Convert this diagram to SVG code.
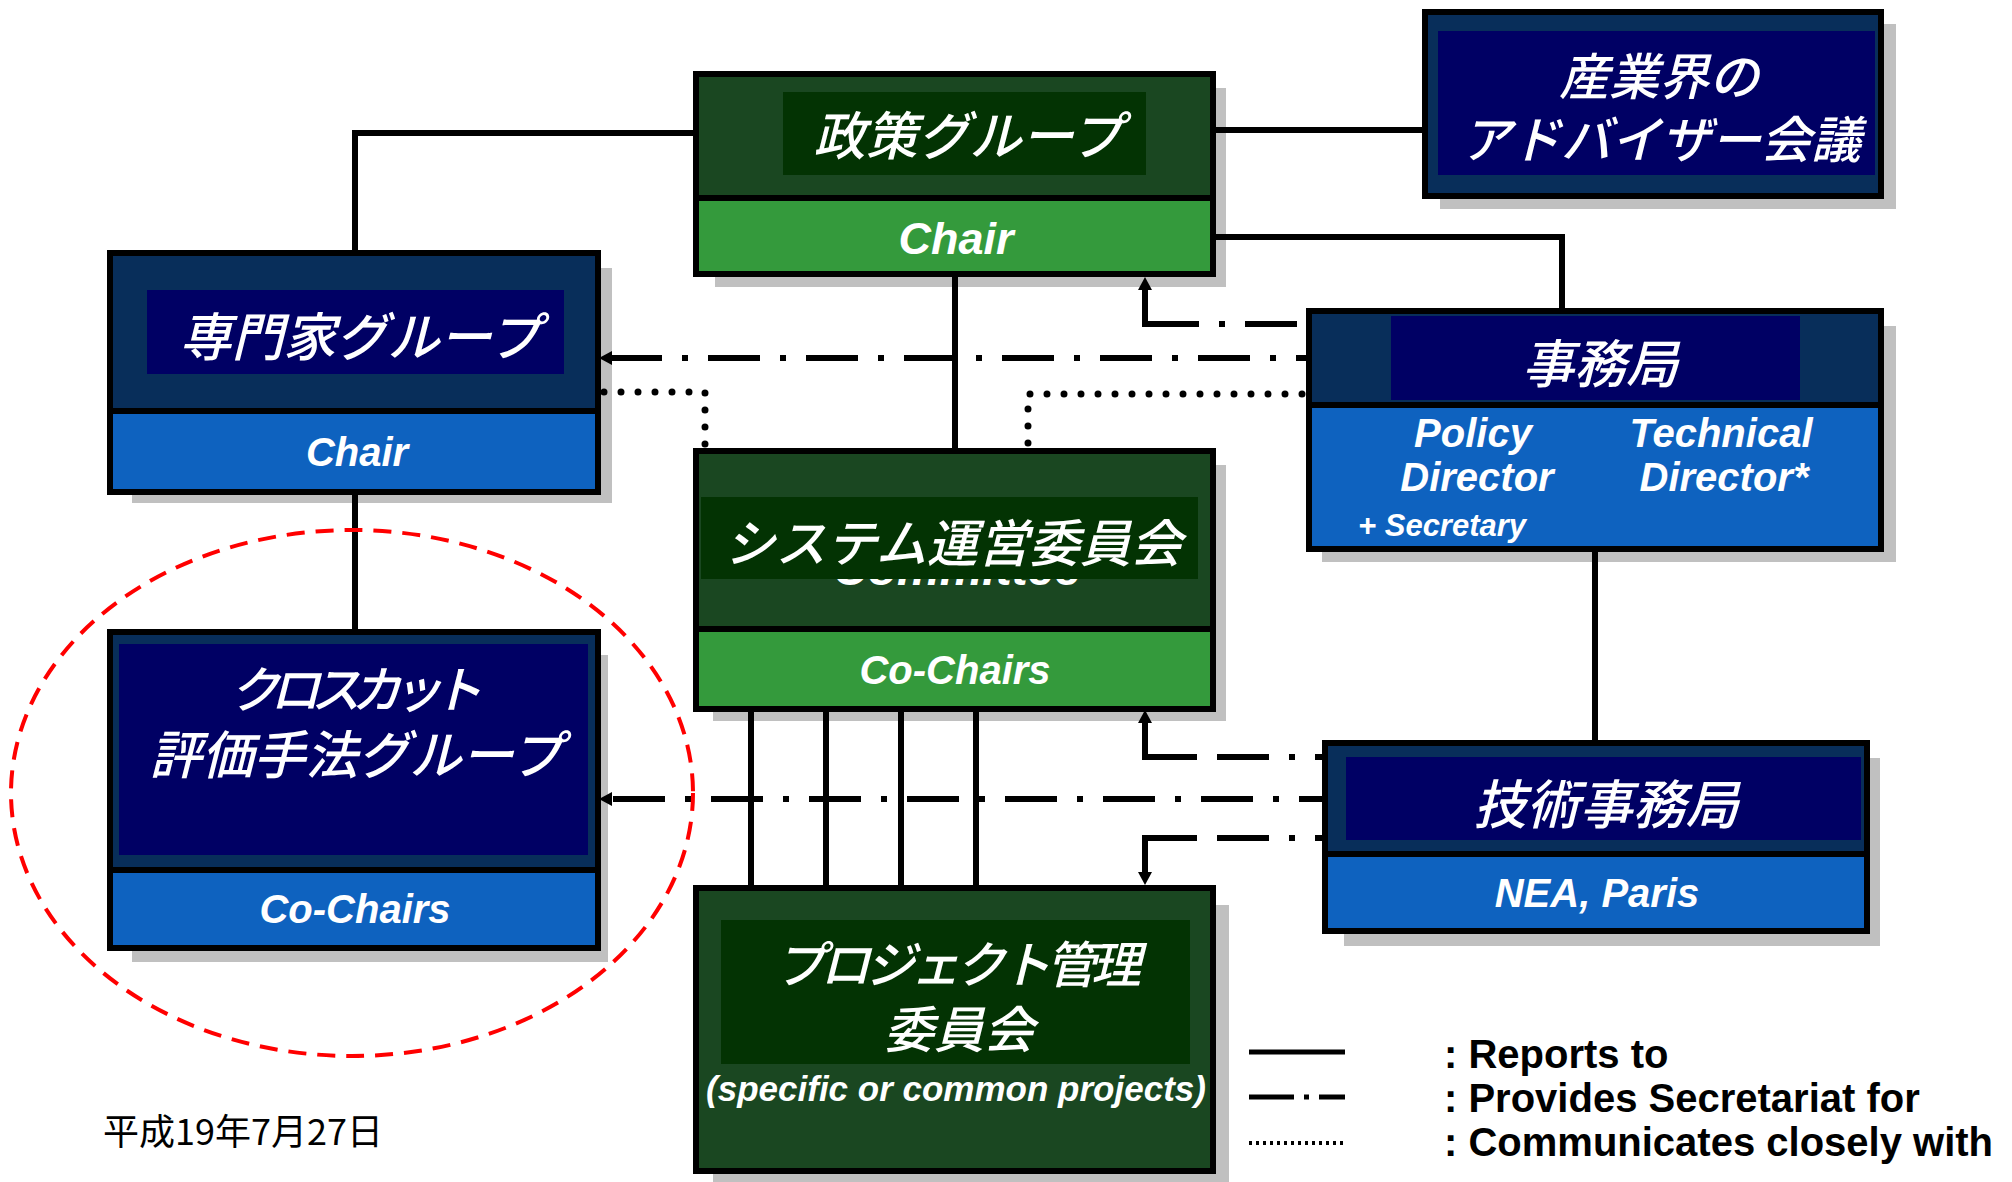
<svg xmlns="http://www.w3.org/2000/svg" width="2012" height="1182" viewBox="0 0 2012 1182">
  <style>
    .jp{font-family:"Noto Sans CJK JP","Noto Sans CJK SC",sans-serif;font-style:italic;font-weight:500;fill:#fff;font-size:50px;text-anchor:middle}
    .en{font-family:"Liberation Sans",Arial,sans-serif;font-weight:bold;font-style:italic;fill:#fff;font-size:40px;text-anchor:middle}
    .leg{font-family:"Liberation Sans",Arial,sans-serif;font-weight:bold;fill:#000;font-size:40px}
    .date{font-family:"Noto Sans CJK JP",sans-serif;fill:#000;font-size:36px}
    .frame{fill:none;stroke:#000;stroke-width:6}
    .div{stroke:#000;stroke-width:6}
    .shadow{fill:#c0c0c0}
    .gTop{fill:#1a4721}.gIn{fill:#033303}.gBot{fill:#349a3c}
    .bTop{fill:#082e5a}.bIn{fill:#000064}.bBot{fill:#0e62bf}
    .solid{fill:none;stroke:#000;stroke-width:6}
    .dashdot{fill:none;stroke:#000;stroke-width:6;stroke-dasharray:52 20 6 20}
    .dotted{fill:none;stroke:#000;stroke-width:7;stroke-linecap:round;stroke-dasharray:0 17}
    .arrow{marker-end:url(#head)}
  </style>
  <defs>
    <marker id="head" viewBox="0 0 13 14" refX="1" refY="7" markerWidth="13" markerHeight="14" markerUnits="userSpaceOnUse" orient="auto">
      <path d="M0,0 L13,7 L0,14 Z" fill="#000"/>
    </marker>
  </defs>
  <rect width="2012" height="1182" fill="#fff"/>

  <!-- Policy group -->
  <g id="policy-group">
    <rect class="shadow" x="715" y="88" width="511" height="199"/>
    <rect class="gTop" x="696" y="74" width="517" height="124"/>
    <rect class="gBot" x="696" y="198" width="517" height="76"/>
    <rect class="gIn" x="783" y="92" width="363" height="83"/>
    <rect class="frame" x="696" y="74" width="517" height="200"/>
    <line class="div" x1="696" y1="198" x2="1213" y2="198"/>
    <text class="jp" x="968" y="155" style="font-size:52px">政策グループ</text>
    <text class="en" x="956" y="254" style="font-size:45px">Chair</text>
  </g>

  <!-- Industry advisory -->
  <g id="advisory">
    <rect class="shadow" x="1440" y="24" width="456" height="185"/>
    <rect class="bTop" x="1425" y="12" width="456" height="184"/>
    <rect class="bIn" x="1438" y="31" width="437" height="144"/>
    <rect class="frame" x="1425" y="12" width="456" height="184"/>
    <text class="jp" x="1659" y="95">産業界の</text>
    <text class="jp" x="1661" y="158">アドバイザー会議</text>
  </g>

  <!-- Expert group -->
  <g id="expert-group">
    <rect class="shadow" x="132" y="268" width="480" height="235"/>
    <rect class="bTop" x="110" y="253" width="488" height="158"/>
    <rect class="bBot" x="110" y="411" width="488" height="81"/>
    <rect class="bIn" x="147" y="290" width="417" height="84"/>
    <rect class="frame" x="110" y="253" width="488" height="239"/>
    <line class="div" x1="110" y1="411" x2="598" y2="411"/>
    <text class="jp" x="360" y="356" style="font-size:52px">専門家グループ</text>
    <text class="en" x="357" y="466">Chair</text>
  </g>

  <!-- System steering committee -->
  <g id="steering">
    <rect class="shadow" x="713" y="465" width="513" height="256"/>
    <rect class="gTop" x="696" y="451" width="517" height="178"/>
    <rect class="gBot" x="696" y="629" width="517" height="80"/>
    <text class="en" x="957" y="585" style="font-size:48px">Committee</text>
    <rect class="gIn" x="701" y="497" width="497" height="82"/>
    <rect class="frame" x="696" y="451" width="517" height="258"/>
    <line class="div" x1="696" y1="629" x2="1213" y2="629"/>
    <text class="jp" x="953" y="562" style="font-size:51px">システム運営委員会</text>
    <text class="en" x="955" y="684">Co-Chairs</text>
  </g>

  <!-- Secretariat -->
  <g id="secretariat">
    <rect class="shadow" x="1322" y="326" width="574" height="236"/>
    <rect class="bTop" x="1309" y="311" width="572" height="94"/>
    <rect class="bBot" x="1309" y="405" width="572" height="144"/>
    <rect class="bIn" x="1391" y="316" width="409" height="84"/>
    <rect class="frame" x="1309" y="311" width="572" height="238"/>
    <line class="div" x1="1309" y1="405" x2="1881" y2="405"/>
    <text class="jp" x="1600" y="383" style="font-size:52px">事務局</text>
    <text class="en" x="1473" y="447">Policy</text>
    <text class="en" x="1477" y="491">Director</text>
    <text class="en" x="1721" y="447">Technical</text>
    <text class="en" x="1724" y="491">Director*</text>
    <text class="en" x="1358" y="536" style="font-size:31px;text-anchor:start">+ Secretary</text>
  </g>

  <!-- Technical secretariat -->
  <g id="tech-secretariat">
    <rect class="shadow" x="1344" y="758" width="536" height="188"/>
    <rect class="bTop" x="1325" y="743" width="542" height="111"/>
    <rect class="bBot" x="1325" y="854" width="542" height="77"/>
    <rect class="bIn" x="1346" y="757" width="515" height="83"/>
    <rect class="frame" x="1325" y="743" width="542" height="188"/>
    <line class="div" x1="1325" y1="854" x2="1867" y2="854"/>
    <text class="jp" x="1606" y="824" style="font-size:53px">技術事務局</text>
    <text class="en" x="1597" y="907">NEA, Paris</text>
  </g>

  <!-- Cross-cutting methodology group -->
  <g id="crosscut">
    <rect class="shadow" x="132" y="655" width="476" height="307"/>
    <rect class="bTop" x="110" y="632" width="488" height="238"/>
    <rect class="bBot" x="110" y="870" width="488" height="78"/>
    <rect class="bIn" x="119" y="644" width="469" height="211"/>
    <rect class="frame" x="110" y="632" width="488" height="316"/>
    <line class="div" x1="110" y1="870" x2="598" y2="870"/>
    <text class="jp" x="356" y="708" textLength="253" lengthAdjust="spacing">クロスカット</text>
    <text class="jp" x="356" y="774" style="font-size:52px">評価手法グループ</text>
    <text class="en" x="355" y="923">Co-Chairs</text>
  </g>

  <!-- Project management committee -->
  <g id="project-board">
    <rect class="shadow" x="713" y="905" width="516" height="277"/>
    <rect class="gTop" x="696" y="888" width="517" height="283"/>
    <rect class="gIn" x="721" y="920" width="469" height="144"/>
    <rect class="frame" x="696" y="888" width="517" height="283"/>
    <text class="jp" x="958" y="983" textLength="366" lengthAdjust="spacing">プロジェクト管理</text>
    <text class="jp" x="959" y="1048">委員会</text>
    <text class="en" x="956" y="1101" style="font-size:35px">(specific or common projects)</text>
  </g>

  <!-- Connectors -->
  <g id="connectors">
    <!-- reports to -->
    <path class="solid" d="M355,250 V133 H693"/>
    <path class="solid" d="M1216,130 H1422"/>
    <path class="solid" d="M1216,237 H1562 V308"/>
    <path class="solid" d="M955,277 V448"/>
    <path class="solid" d="M355,495 V629"/>
    <path class="solid" d="M1595,552 V740"/>
    <path class="solid" d="M751,712 V885"/>
    <path class="solid" d="M826,712 V885"/>
    <path class="solid" d="M901,712 V885"/>
    <path class="solid" d="M976,712 V885"/>
    <!-- provides secretariat for -->
    <g>
      <path class="dashdot" d="M1306,324 H1197" stroke-dashoffset="89"/>
      <path class="solid arrow" d="M1197,324 H1145 V289"/>
    </g>
    <path class="dashdot arrow" d="M1306,358 H611" stroke-dashoffset="42"/>
    <g>
      <path class="dashdot" d="M1322,757 H1197" stroke-dashoffset="45"/>
      <path class="solid arrow" d="M1197,757 H1145 V722"/>
    </g>
    <path class="dashdot arrow" d="M1322,799 H611" stroke-dashoffset="29"/>
    <g>
      <path class="dashdot" d="M1322,838 H1197" stroke-dashoffset="45"/>
      <path class="solid arrow" d="M1197,838 H1145 V873"/>
    </g>
    <!-- communicates closely with -->
    <path class="dotted" d="M604,392 H705 V448"/>
    <path class="dotted" d="M1302,394 H1028 V448"/>
  </g>

  <!-- Highlight ring -->
  <g id="focus-ring">
    <ellipse cx="352" cy="793" rx="341" ry="263" fill="none" stroke="#ff0000" stroke-width="4" stroke-dasharray="18 11"/>
  </g>

  <!-- Legend -->
  <g id="legend">
    <path d="M1249,1052 H1345" stroke="#000" stroke-width="5"/>
    <path d="M1249,1097 H1345" stroke="#000" stroke-width="5" stroke-dasharray="45 10 5 10 26"/>
    <path d="M1249,1143 H1345" stroke="#000" stroke-width="4" stroke-dasharray="3 4"/>
    <text class="leg" x="1444" y="1068">: Reports to</text>
    <text class="leg" x="1444" y="1112">: Provides Secretariat for</text>
    <text class="leg" x="1444" y="1156">: Communicates closely with</text>
  </g>

  <text id="date" class="date" x="103" y="1145">平成19年7月27日</text>
</svg>
